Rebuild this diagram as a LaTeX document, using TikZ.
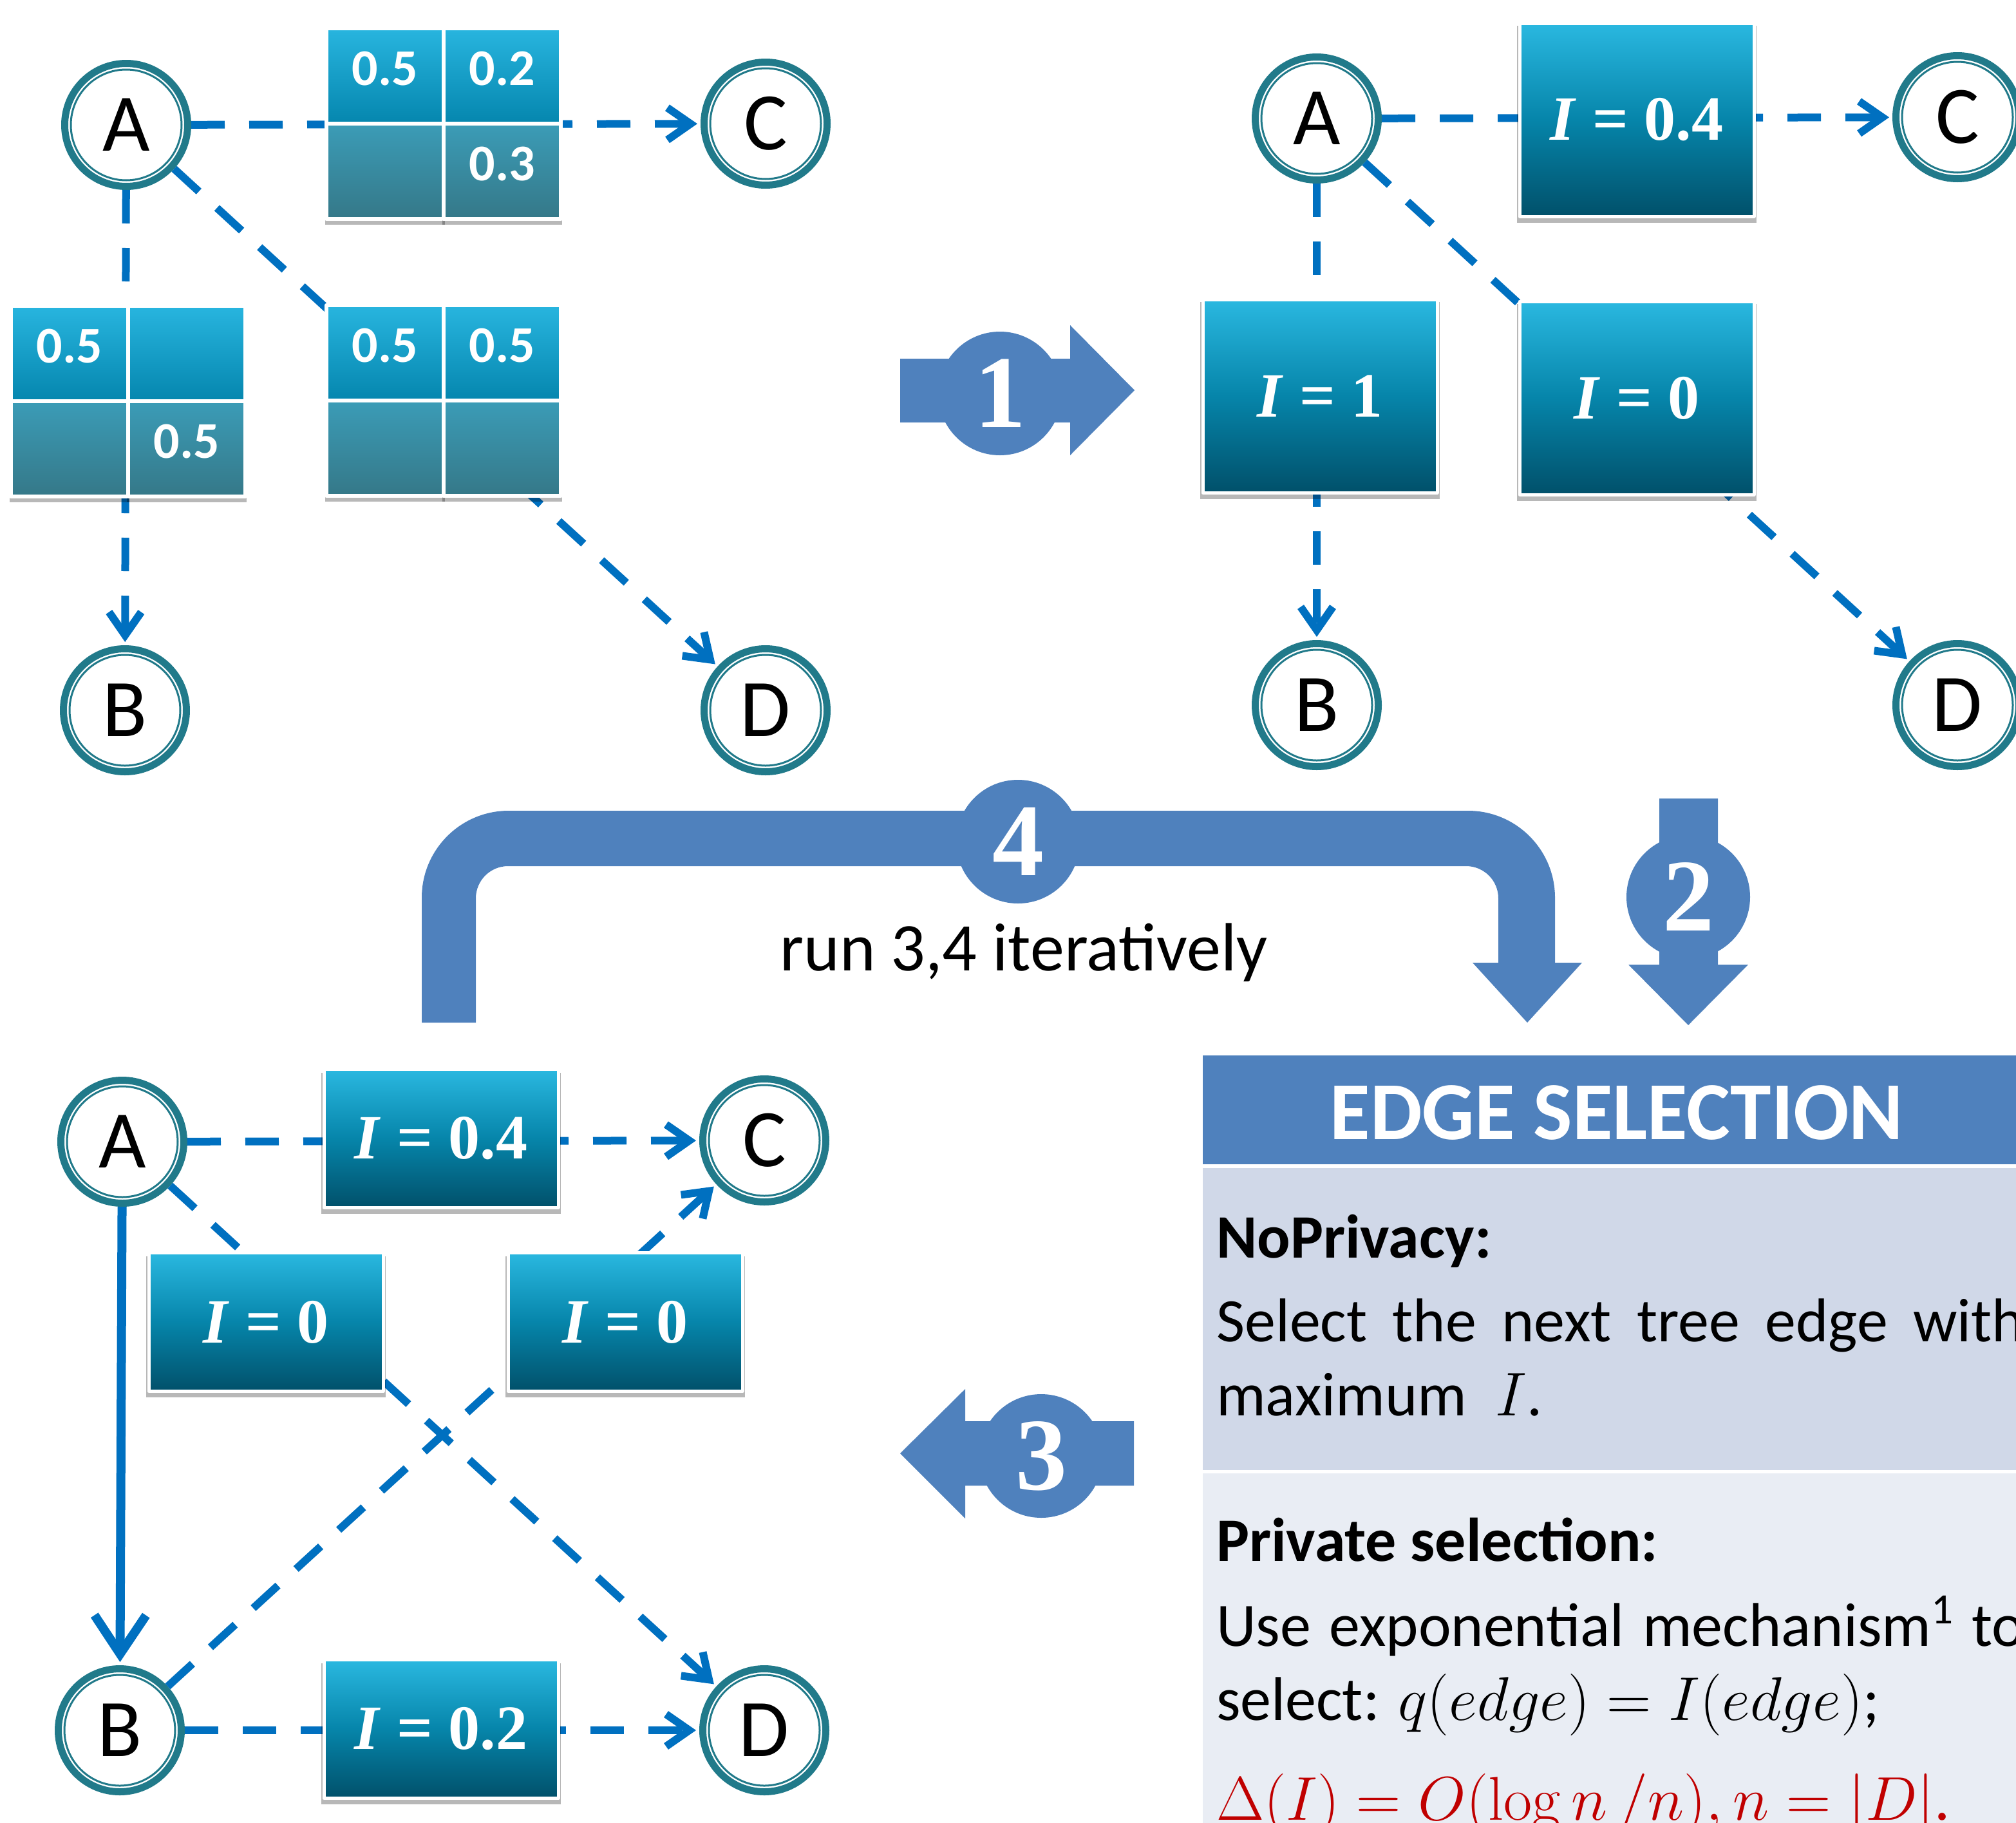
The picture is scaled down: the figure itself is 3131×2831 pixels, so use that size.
\RequirePackage{fix-cm}
\documentclass[tikz,border=0pt]{standalone}
\usepackage[no-math]{fontspec}
\setmainfont{Carlito}
\newfontfamily\stepfont{Liberation Serif}
\usepackage{tikz}
\usetikzlibrary{arrows.meta}
\usetikzlibrary{shadows}

\definecolor{ringteal}{HTML}{217A8A}
\definecolor{edgeblue}{HTML}{0070C0}
\definecolor{celltop}{HTML}{28B5DF}
\definecolor{cellbot}{HTML}{0586AE}
\definecolor{lowtop}{HTML}{3B9CB7}
\definecolor{lowbot}{HTML}{357888}
\definecolor{boxtop}{HTML}{2AB8E0}
\definecolor{boxmid}{HTML}{0685AA}
\definecolor{boxbot}{HTML}{01506A}
\definecolor{stepblue}{HTML}{4F81BD}
\definecolor{paneltop}{HTML}{D0D8E8}
\definecolor{panelbot}{HTML}{E9EDF4}
\definecolor{redtext}{HTML}{C00000}

\begin{document}
\begin{tikzpicture}[line join=round,
  vertex/.style={circle,draw=ringteal,line width=11bp,fill=white,minimum size=191bp,inner sep=0pt,
    font=\fontsize{127bp}{127bp}\selectfont,
    path picture={\draw [ringteal,line width=3bp] (path picture bounding box.center) circle (86bp);}},
  dashedge/.style={edgeblue,line width=12bp,dash pattern=on 52bp off 38bp,
    -{Straight Barb[length=36bp,width=50bp]},shorten >=5bp},
  solidedge/.style={edgeblue,line width=14bp,-{Straight Barb[length=60bp,width=80bp]},shorten >=5bp},
  boxshadow/.style={drop shadow={shadow xshift=0bp,shadow yshift=-7bp,shadow scale=1.02,
    opacity=0.28,fill=black}},
  cellhi/.style={rectangle,draw=white,line width=6bp,top color=celltop,bottom color=cellbot,
    minimum width=182bp,minimum height=148bp,inner sep=0pt,text=white,boxshadow,
    text height=51bp,text depth=22bp,font=\bfseries\fontsize{80bp}{80bp}\selectfont},
  celllo/.style={cellhi,top color=lowtop,bottom color=lowbot},
  ibox/.style={rectangle,draw=white,line width=5bp,top color=boxtop,bottom color=boxbot,middle color=boxmid,
    minimum width=364bp,inner sep=0pt,text=white,boxshadow,
    font=\stepfont\bfseries\fontsize{98bp}{98bp}\selectfont},
  tallbox/.style={ibox,minimum height=300bp},
  flatbox/.style={ibox,minimum height=215bp},
  stepnum/.style={circle,fill=stepblue,minimum size=192bp,inner sep=0pt,text=white,
    font=\stepfont\bfseries\fontsize{160bp}{160bp}\selectfont},
  paneltext/.style={anchor=base west,inner sep=0pt,font=\fontsize{96bp}{96bp}\selectfont},
  panelhead/.style={paneltext,font=\bfseries\fontsize{96bp}{96bp}\selectfont},
]
\useasboundingbox (0bp,0bp) rectangle (3131bp,-2831bp);
\clip (0bp,0bp) rectangle (3131bp,-2831bp);
%%
%% step arrows
\fill [stepblue] (1398bp,-557bp) -- (1662bp,-557bp) -- (1662bp,-505bp) -- (1762bp,-606bp) -- (1662bp,-707bp) -- (1662bp,-656bp) -- (1398bp,-656bp) -- cycle;
\node (step_1) at (1553bp,-611bp) [stepnum] {1};
\fill [stepblue] (2577bp,-1240bp) -- (2668bp,-1240bp) -- (2668bp,-1498bp) -- (2715bp,-1498bp) -- (2622bp,-1592bp) -- (2529bp,-1498bp) -- (2577bp,-1498bp) -- cycle;
\node (step_2) at (2622bp,-1393bp) [stepnum] {2};
\fill [stepblue] (1761bp,-2207bp) -- (1499bp,-2207bp) -- (1499bp,-2157bp) -- (1398bp,-2257bp) -- (1499bp,-2358bp) -- (1499bp,-2307bp) -- (1761bp,-2307bp) -- cycle;
\node (step_3) at (1617bp,-2261bp) [stepnum] {3};
\fill [stepblue] (655bp,-1588bp) -- (655bp,-1394bp) arc[start angle=180,end angle=90,radius=135bp]
  -- (2280bp,-1259bp) arc[start angle=90,end angle=0,radius=135bp]
  -- (2415bp,-1495bp) -- (2457bp,-1495bp) -- (2372bp,-1588bp) -- (2287bp,-1495bp) -- (2327bp,-1495bp)
  -- (2327bp,-1395bp) arc[start angle=0,end angle=90,radius=50bp]
  -- (789bp,-1345bp) arc[start angle=90,end angle=180,radius=50bp] -- (739bp,-1588bp) -- cycle;
\node (step_4) at (1581bp,-1307bp) [stepnum] {4};
\node (loop_txt) at (1590bp,-1507bp) [anchor=base,font=\fontsize{106bp}{106bp}\selectfont] {run 3,4 iteratively};
%
%% edge selection panel
\fill [stepblue] (1868bp,-1639bp) rectangle (3200bp,-1808bp);
\fill [paneltop] (1868bp,-1814bp) rectangle (3200bp,-2283bp);
\fill [panelbot] (1868bp,-2288bp) rectangle (3200bp,-2900bp);
\node (sel_head) at (2511bp,-1769bp) [anchor=base,inner sep=0pt,text=white,font=\bfseries\fontsize{128bp}{128bp}\selectfont] {EDGE SELECTION};
\node (np_head) at (1889bp,-1953bp) [panelhead] {NoPrivacy:};
\node (np_1) at (1889bp,-2083bp) [paneltext] {\makebox[1255bp][s]{Select the next tree edge with}};
\node (np_2) at (1889bp,-2198bp) [paneltext] {maximum\hspace{22bp} $I$.};
\node (ps_head) at (1889bp,-2424bp) [panelhead] {Private selection:};
\node (ps_1) at (1889bp,-2556bp) [paneltext] {\makebox[1255bp][s]{Use exponential mechanism\textsuperscript{1} to}};
\node (ps_2) at (1889bp,-2671bp) [paneltext] {select: $q(edge) = I(edge)$;};
\node (ps_3) at (1889bp,-2826bp) [paneltext,text=redtext] {$\Delta(I) = O(\log n\,/n), n = |D|$.};
%
%% first tree: pairwise tables
\node (a_1) at (196bp,-194bp) [vertex] {A};
\node (b_1) at (194bp,-1103bp) [vertex] {B};
\node (c_1) at (1189bp,-192bp) [vertex] {C};
\node (d_1) at (1189bp,-1103bp) [vertex] {D};
\draw [dashedge] (a_1) -- (c_1);
\draw [dashedge] (a_1) -- (b_1);
\draw [dashedge] (a_1) -- (d_1);
\node (ac_11) at (598bp,-118bp) [cellhi] {0.5};
\node (ac_12) at (780bp,-118bp) [cellhi] {0.2};
\node (ac_21) at (598bp,-266bp) [celllo] {};
\node (ac_22) at (780bp,-266bp) [celllo] {0.3};
\node (ab_11) at (108bp,-549bp) [cellhi] {0.5};
\node (ab_12) at (290bp,-549bp) [cellhi] {};
\node (ab_21) at (108bp,-697bp) [celllo] {};
\node (ab_22) at (290bp,-697bp) [celllo] {0.5};
\node (ad_11) at (598bp,-548bp) [cellhi] {0.5};
\node (ad_12) at (780bp,-548bp) [cellhi] {0.5};
\node (ad_21) at (598bp,-696bp) [celllo] {};
\node (ad_22) at (780bp,-696bp) [celllo] {};
%
%% second tree: mutual information
\node (a_2) at (2045bp,-184bp) [vertex] {A};
\node (b_2) at (2045bp,-1095bp) [vertex] {B};
\node (c_2) at (3040bp,-182bp) [vertex] {C};
\node (d_2) at (3040bp,-1095bp) [vertex] {D};
\draw [dashedge] (a_2) -- (c_2);
\draw [dashedge] (a_2) -- (b_2);
\draw [dashedge] (a_2) -- (d_2);
\node (i_ac2) at (2542bp,-186bp) [tallbox] {\textit{I} = 0.4};
\node (i_ab2) at (2050bp,-615bp) [tallbox] {\textit{I} = 1};
\node (i_ad2) at (2542bp,-618bp) [tallbox] {\textit{I} = 0};
%
%% third tree: selected edge
\node (a_3) at (190bp,-1773bp) [vertex] {A};
\node (b_3) at (186bp,-2687bp) [vertex] {B};
\node (c_3) at (1187bp,-1771bp) [vertex] {C};
\node (d_3) at (1187bp,-2687bp) [vertex] {D};
\draw [dashedge] (a_3) -- (c_3);
\draw [solidedge] (a_3) -- (b_3);
\draw [dashedge] (a_3) -- (d_3);
\draw [dashedge] (b_3) -- (c_3);
\draw [dashedge] (b_3) -- (d_3);
\node (i_ac3) at (685bp,-1768bp) [flatbox] {\textit{I} = 0.4};
\node (i_ad3) at (413bp,-2053bp) [flatbox] {\textit{I} = 0};
\node (i_bc3) at (971bp,-2053bp) [flatbox] {\textit{I} = 0};
\node (i_bd3) at (685bp,-2685bp) [flatbox] {\textit{I} = 0.2};
%
\end{tikzpicture}
\end{document}
